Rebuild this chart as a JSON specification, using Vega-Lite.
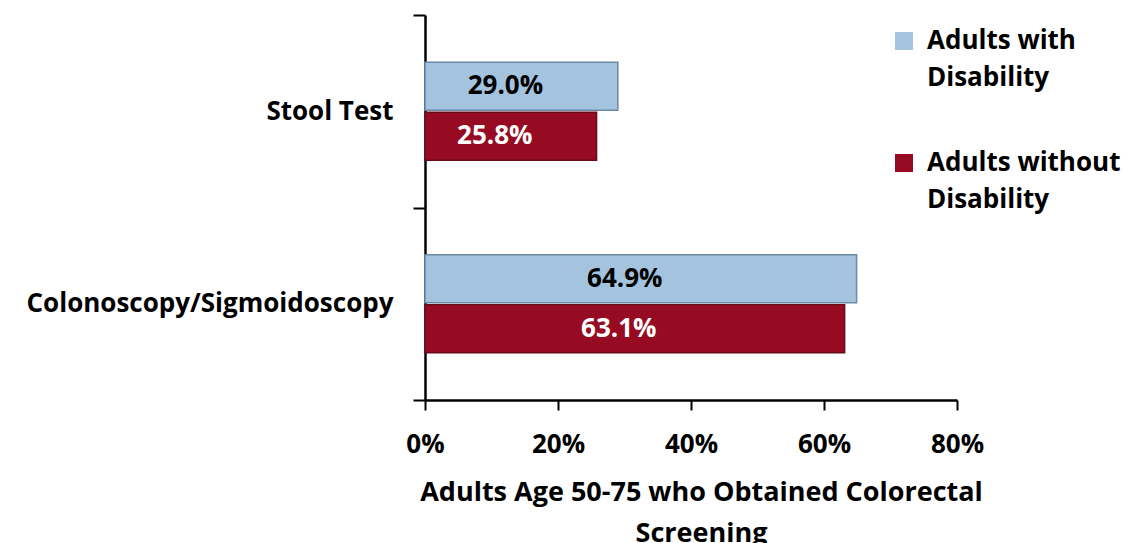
{
  "$schema": "https://vega.github.io/schema/vega-lite/v6.json",
  "width": 532,
  "height": 385,
  "autosize": {"type": "none"},
  "padding": {"left": 425, "top": 15, "right": 170, "bottom": 143},
  "background": "white",
  "config": {
    "font": "Open Sans",
    "view": {"stroke": null},
    "style": {"guide-label": {"lineHeight": 37}},
    "axis": {"labelFont": "Open Sans", "titleFont": "Open Sans", "labelFontWeight": "bold", "titleFontWeight": "bold", "labelColor": "black", "titleColor": "black", "domainColor": "black", "tickColor": "black", "grid": false},
    "legend": {"labelFont": "Open Sans", "labelFontWeight": "bold", "labelColor": "black"}
  },
  "data": {
    "values": [
      {"cat": "Stool Test", "group": "Adults with Disability", "value": 0.290},
      {"cat": "Stool Test", "group": "Adults without Disability", "value": 0.258},
      {"cat": "Colonoscopy/Sigmoidoscopy", "group": "Adults with Disability", "value": 0.649},
      {"cat": "Colonoscopy/Sigmoidoscopy", "group": "Adults without Disability", "value": 0.631}
    ]
  },
  "encoding": {
    "y": {
      "field": "cat", "type": "nominal", "sort": ["Stool Test", "Colonoscopy/Sigmoidoscopy"],
      "scale": {"paddingInner": 0, "paddingOuter": 0},
      "axis": {"title": null, "tickBand": "extent", "tickSize": 12, "tickWidth": 2, "domainWidth": 2.5, "labelFontSize": 26, "labelPadding": 20, "labelLimit": 420}
    },
    "yOffset": {"field": "group", "type": "nominal", "scale": {"paddingInner": 0.04, "paddingOuter": 0.945}}
  },
  "layer": [
    {
      "mark": {"type": "bar", "strokeWidth": 1.5},
      "encoding": {
        "x": {
          "field": "value", "type": "quantitative",
          "scale": {"domain": [0, 0.8]},
          "axis": {
            "values": [0, 0.2, 0.4, 0.6, 0.8], "format": ".0%",
            "title": ["Adults Age 50-75 who Obtained Colorectal", "Screening"],
            "titleFontSize": 27, "titleLineHeight": 41, "titlePadding": 22, "titleX": 276, "titleAlign": "center",
            "labelFontSize": 26, "labelPadding": 21, "tickSize": 10, "tickWidth": 2, "domainWidth": 2.5,
            "labelFlush": false
          }
        },
        "color": {
          "field": "group", "type": "nominal",
          "scale": {"range": ["#a3c3df", "#960b22"]},
          "legend": {
            "title": null, "orient": "none", "legendX": 466, "legendY": 13,
            "symbolType": "square", "symbolSize": 324, "symbolStrokeWidth": 0,
            "labelFontSize": 26, "rowPadding": 59,
            "labelOffset": 10, "labelLimit": 300, "labelBaseline": "middle",
            "labelExpr": "datum.label == 'Adults with Disability' ? ['Adults with', 'Disability'] : ['Adults without', 'Disability']"
          }
        },
        "stroke": {
          "field": "group", "type": "nominal",
          "scale": {"range": ["#6a8aa6", "#6a0b1a"]},
          "legend": null
        }
      }
    },
    {
      "transform": [{"calculate": "datum.value / 2", "as": "mid"}],
      "mark": {"type": "text", "fontSize": 26, "fontWeight": "bold", "dx": -16, "baseline": "middle"},
      "encoding": {
        "x": {"field": "mid", "type": "quantitative"},
        "text": {"field": "value", "type": "quantitative", "format": ".1%"},
        "color": {"condition": {"test": "datum.group === 'Adults with Disability'", "value": "black"}, "value": "white"}
      }
    }
  ]
}
